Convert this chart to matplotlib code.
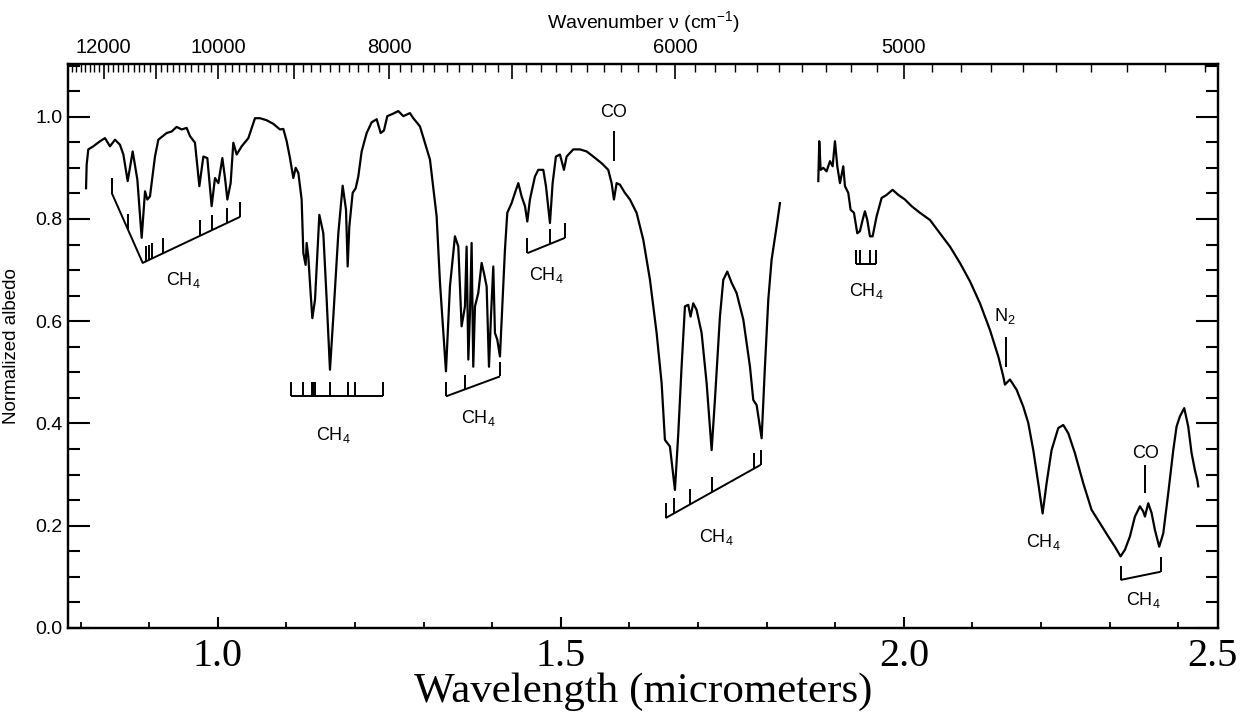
import matplotlib
matplotlib.use("Agg")
import matplotlib.pyplot as plt
import matplotlib.transforms as mtransforms
import numpy as np
from matplotlib.ticker import MultipleLocator

plt.rcParams.update({
    "font.family": ["Liberation Sans", "DejaVu Sans"],
    "mathtext.default": "regular",
})

# Spectrum, segment 1 (0.81 - 1.82 um)
wl1 = [0.8078, 0.8087, 0.8111, 0.8184, 0.8282, 0.8354, 0.8427, 0.8500, 0.8573, 0.8622,
       0.8685, 0.8758, 0.8826, 0.8889, 0.8938, 0.8972, 0.9010, 0.9083, 0.9132, 0.9253,
       0.9326, 0.9399, 0.9472, 0.9545, 0.9593, 0.9666, 0.9730, 0.9788, 0.9846, 0.9909,
       0.9958, 1.0007, 1.0065, 1.0104, 1.0138, 1.0186, 1.0225, 1.0274, 1.0347, 1.0444,
       1.0541, 1.0614, 1.0711, 1.0808, 1.0905, 1.0954, 1.1003, 1.1051, 1.1100, 1.1134,
       1.1173, 1.1221, 1.1246, 1.1279, 1.1294, 1.1318, 1.1352, 1.1377, 1.1416, 1.1479,
       1.1537, 1.1586, 1.1634, 1.1683, 1.1756, 1.1819, 1.1868, 1.1892, 1.1916, 1.1965,
       1.2009, 1.2047, 1.2096, 1.2169, 1.2242, 1.2315, 1.2373, 1.2421, 1.2470, 1.2557,
       1.2630, 1.2703, 1.2800, 1.2849, 1.2946, 1.3092, 1.3189, 1.3238, 1.3325, 1.3383,
       1.3456, 1.3505, 1.3553, 1.3602, 1.3626, 1.3651, 1.3675, 1.3699, 1.3723, 1.3748,
       1.3796, 1.3845, 1.3879, 1.3918, 1.3952, 1.3981, 1.4015, 1.4039, 1.4073, 1.4112,
       1.4151, 1.4185, 1.4219, 1.4282, 1.4331, 1.4380, 1.4428, 1.4477, 1.4511, 1.4549,
       1.4622, 1.4671, 1.4744, 1.4783, 1.4841, 1.4880, 1.4928, 1.4987, 1.5045, 1.5084,
       1.5181, 1.5278, 1.5376, 1.5473, 1.5594, 1.5691, 1.5740, 1.5774, 1.5813, 1.5861,
       1.5934, 1.6007, 1.6104, 1.6202, 1.6299, 1.6396, 1.6469, 1.6517, 1.6590, 1.6663,
       1.6712, 1.6760, 1.6809, 1.6857, 1.6891, 1.6930, 1.6979, 1.7052, 1.7125, 1.7198,
       1.7246, 1.7319, 1.7368, 1.7426, 1.7490, 1.7562, 1.7660, 1.7757, 1.7805, 1.7854,
       1.7927, 1.7975, 1.8024, 1.8072, 1.8145, 1.8194]
alb1 = [0.860, 0.906, 0.936, 0.942, 0.952, 0.958, 0.942, 0.955, 0.945, 0.926,
        0.874, 0.932, 0.877, 0.763, 0.854, 0.838, 0.844, 0.922, 0.955, 0.968,
        0.971, 0.980, 0.975, 0.978, 0.962, 0.949, 0.864, 0.922, 0.919, 0.825,
        0.880, 0.870, 0.919, 0.880, 0.838, 0.870, 0.949, 0.926, 0.942, 0.958,
        0.997, 0.997, 0.993, 0.986, 0.975, 0.976, 0.952, 0.919, 0.880, 0.900,
        0.890, 0.838, 0.733, 0.710, 0.753, 0.727, 0.655, 0.606, 0.642, 0.808,
        0.772, 0.642, 0.505, 0.609, 0.772, 0.865, 0.818, 0.707, 0.785, 0.851,
        0.860, 0.883, 0.932, 0.968, 0.989, 0.995, 0.968, 0.973, 1.001, 1.006,
        1.011, 1.001, 1.007, 0.997, 0.981, 0.916, 0.805, 0.675, 0.502, 0.668,
        0.766, 0.746, 0.590, 0.629, 0.746, 0.525, 0.616, 0.753, 0.511, 0.629,
        0.655, 0.714, 0.694, 0.668, 0.511, 0.609, 0.707, 0.577, 0.564, 0.531,
        0.642, 0.740, 0.812, 0.831, 0.851, 0.870, 0.844, 0.825, 0.795, 0.838,
        0.883, 0.896, 0.896, 0.864, 0.792, 0.870, 0.922, 0.926, 0.896, 0.922,
        0.936, 0.936, 0.932, 0.922, 0.909, 0.896, 0.870, 0.838, 0.870, 0.867,
        0.851, 0.838, 0.812, 0.759, 0.681, 0.577, 0.479, 0.368, 0.355, 0.270,
        0.381, 0.511, 0.629, 0.632, 0.609, 0.635, 0.622, 0.577, 0.479, 0.348,
        0.446, 0.609, 0.681, 0.697, 0.675, 0.655, 0.603, 0.511, 0.446, 0.436,
        0.371, 0.511, 0.642, 0.720, 0.785, 0.831]

# Spectrum, segment 2 (1.87 - 2.43 um)
wl2 = [1.8753, 1.8767, 1.8787, 1.8826, 1.8874, 1.8923, 1.8962, 1.8996, 1.9030, 1.9069,
       1.9117, 1.9142, 1.9190, 1.9224, 1.9273, 1.9321, 1.9360, 1.9399, 1.9433, 1.9467,
       1.9506, 1.9545, 1.9603, 1.9676, 1.9749, 1.9836, 1.9919, 2.0016, 2.0113, 2.0235,
       2.0381, 2.0526, 2.0672, 2.0818, 2.0964, 2.1110, 2.1255, 2.1377, 2.1450, 2.1474,
       2.1547, 2.1644, 2.1741, 2.1814, 2.1887, 2.1960, 2.2023, 2.2081, 2.2154, 2.2251,
       2.2324, 2.2397, 2.2494, 2.2616, 2.2737, 2.2859, 2.2980, 2.3077, 2.3160, 2.3223,
       2.3296, 2.3369, 2.3442, 2.3490, 2.3515, 2.3563, 2.3612, 2.3660, 2.3723, 2.3782,
       2.3855, 2.3928, 2.3976, 2.4025, 2.4088, 2.4146, 2.4195, 2.4243, 2.4277, 2.4292]
alb2 = [0.874, 0.952, 0.896, 0.900, 0.893, 0.913, 0.903, 0.952, 0.903, 0.870,
        0.903, 0.864, 0.851, 0.818, 0.812, 0.772, 0.776, 0.798, 0.815, 0.798,
        0.766, 0.766, 0.805, 0.841, 0.847, 0.857, 0.847, 0.838, 0.825, 0.812,
        0.798, 0.772, 0.746, 0.714, 0.678, 0.635, 0.583, 0.531, 0.492, 0.476,
        0.486, 0.466, 0.433, 0.401, 0.348, 0.283, 0.224, 0.283, 0.348, 0.391,
        0.397, 0.381, 0.342, 0.283, 0.231, 0.205, 0.179, 0.159, 0.140, 0.153,
        0.179, 0.218, 0.238, 0.228, 0.218, 0.244, 0.225, 0.192, 0.159, 0.185,
        0.264, 0.348, 0.394, 0.414, 0.430, 0.394, 0.342, 0.309, 0.290, 0.277]

# Absorption band brackets: base line (x, y), tick positions, tick height
brackets = [
    ([0.8452, 0.8904, 1.0322], [0.851, 0.714, 0.804],
     [0.8452, 0.8685, 0.8953, 0.8992, 0.9035, 0.9195, 0.9739, 0.9909, 1.0138, 1.0322], 0.030),
    ([1.1066, 1.2412], [0.453, 0.453],
     [1.1066, 1.1236, 1.1367, 1.1391, 1.1416, 1.1634, 1.1901, 1.1999, 1.2412], 0.029),
    ([1.3325, 1.4112], [0.453, 0.492], [1.3325, 1.3602, 1.4112], 0.029),
    ([1.4511, 1.5060], [0.733, 0.763], [1.4511, 1.4841, 1.5060], 0.029),
    ([1.6527, 1.7912], [0.215, 0.319],
     [1.6527, 1.6649, 1.6882, 1.7198, 1.7820, 1.7912], 0.030),
    ([1.9302, 1.9593], [0.712, 0.712], [1.9302, 1.9360, 1.9506, 1.9593], 0.028),
    ([2.3160, 2.3743], [0.094, 0.110], [2.3160, 2.3743], 0.028),
]
# single feature markers: x, y_bottom, y_top
markers = [(1.5774, 0.913, 0.971), (2.1488, 0.511, 0.570), (2.3515, 0.264, 0.319)]

label_x = [0.949, 1.168, 1.3795, 1.4793, 1.727, 1.9448, 2.2028, 2.3486, 1.5774, 2.3529, 2.1474]
label_y = [0.681, 0.378, 0.411, 0.691, 0.178, 0.660, 0.168, 0.055, 1.008, 0.342, 0.611]
label_txt = ["CH$_4$"] * 8 + ["CO", "CO", "N$_2$"]

nu_major = [12000, 11000, 10000, 9000, 8000, 7000, 6000, 5000]
nu_major_lbl = ["12000", "", "10000", "", "8000", "", "6000", "5000"]
nu_minor = np.arange(4100, 12800, 100)

W, H = 1240, 714
fig = plt.figure(figsize=(W / 100, H / 100), dpi=100)
ax = fig.add_axes([68 / W, 1 - 628 / H, (1218 - 68) / W, (628 - 64) / H])

lw = 1.6
ax.plot(wl1, alb1, color="black", lw=lw)
ax.plot(wl2, alb2, color="black", lw=lw)

for bx, by, tx, th in brackets:
    ax.plot(bx, by, color="black", lw=1.4, solid_capstyle="butt")
    base = np.interp(tx, bx, by)
    ax.vlines(tx, base, base + th, color="black", lw=1.4)
for mx, y0, y1 in markers:
    ax.vlines(mx, y0, y1, color="black", lw=1.4)
for x, y, s in zip(label_x, label_y, label_txt):
    ax.text(x, y, s, ha="center", va="center", fontsize=13)

ax.set_xlim(0.7815, 2.458)
ax.set_ylim(0, 1.103)

# bottom axis: wavelength
ax.set_xticks([1.0, 1.5, 2.0], labels=["1.0", "1.5", "2.0"])
ax.xaxis.set_minor_locator(MultipleLocator(0.1))
ax.tick_params(axis="x", which="major", direction="in", length=8, width=1.5,
               pad=7, labelsize=29, labelfontfamily="Liberation Serif")
ax.tick_params(axis="x", which="minor", direction="in", length=4, width=1.3)
trans_25 = mtransforms.offset_copy(ax.transAxes, fig=fig, x=20, y=0, units="dots")
ax.text(1.0, -0.0175, "2.5", transform=trans_25, ha="right", va="top",
        fontsize=29, family="Liberation Serif")
ax.set_xlabel("Wavelength (micrometers)", fontsize=31, family="Liberation Serif")
ax.xaxis.set_label_coords(0.5, -0.079)

# left / right axis
ax.set_yticks(np.arange(0, 1.01, 0.2))
ax.set_yticklabels([f"{v:.1f}" for v in np.arange(0, 1.01, 0.2)])
ax.yaxis.set_minor_locator(MultipleLocator(0.05))
ax.tick_params(axis="y", which="major", direction="in", length=16, width=1.5,
               left=True, right=True, labelsize=14, pad=4)
ax.tick_params(axis="y", which="minor", direction="in", length=8.5, width=1.5,
               left=True, right=True)
ax.set_ylabel("Normalized albedo", fontsize=13.5)
ax.yaxis.set_label_coords(-0.042, 0.5)

# top axis: wavenumber
ax2 = ax.twiny()
ax2.set_xlim(ax.get_xlim())
ax2.set_xticks(10000 / np.array(nu_major), labels=nu_major_lbl)
ax2.set_xticks(10000 / nu_minor, minor=True)
ax2.tick_params(axis="x", which="major", direction="in", length=11, width=1.2,
                labelsize=14.5, pad=5)
ax2.tick_params(axis="x", which="minor", direction="in", length=5.5, width=1.0)
ax2.set_xlabel("Wavenumber \u03bd (cm$^{-1}$)", fontsize=14)
ax2.xaxis.set_label_coords(0.5, 1.064)

for a in (ax, ax2):
    for side in a.spines.values():
        side.set_linewidth(1.6)

fig.savefig("out.png", dpi=100)
